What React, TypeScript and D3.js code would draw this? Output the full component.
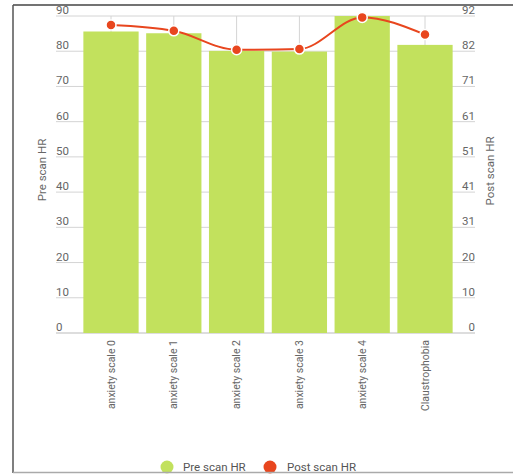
import React from "react";
import * as d3 from "d3";

const categories = [
  "anxiety scale 0",
  "anxiety scale 1",
  "anxiety scale 2",
  "anxiety scale 3",
  "anxiety scale 4",
  "Claustrophobia",
];
const preScanHR = [85.6, 85.1, 80.1, 79.9, 90, 81.8];
const postScanHR = [89.4, 87.7, 82.2, 82.4, 91.6, 86.6];
const leftTicks = [0, 10, 20, 30, 40, 50, 60, 70, 80, 90];
const rightTickLabels = ["0", "10", "20", "31", "41", "51", "61", "71", "82", "92"];

const W = 513;
const H = 474;
const TOP = 16;
const BOTTOM = 333;
const GRID_L = 56;
const GRID_R = 475;

const BAR = "#c2e15d";
const LINE = "#e8461e";
const TEXT = "#666";
const FONT = "Roboto, 'Liberation Sans', Arial, sans-serif";

export default function App() {
  const x = d3.scaleBand<string>().domain(categories).range([79.6, 456.4]).paddingInner(0.12).paddingOuter(0.06);
  const yL = d3.scaleLinear().domain([0, 90]).range([BOTTOM, TOP]);
  const yR = d3.scaleLinear().domain([0, 92]).range([BOTTOM, TOP]);
  const rightTickVals = d3.range(10).map((i) => (92 * i) / 9);

  const cx = (c: string) => (x(c) ?? 0) + x.bandwidth() / 2;
  const pts: [number, number][] = categories.map((c, i) => [cx(c), yR(postScanHR[i])]);
  const line = d3.line().curve(d3.curveMonotoneX)(pts) ?? "";

  return (
    <svg
      width={W}
      height={H}
      style={{ position: "absolute", left: 0, top: 0, background: "#fff" }}
      fontFamily={FONT}
    >
      {/* horizontal gridlines */}
      {leftTicks.map((t) => (
        <line key={"g" + t} x1={GRID_L} x2={GRID_R} y1={yL(t)} y2={yL(t)} stroke={t === 0 ? "#bbb" : "#d4d4d4"} strokeWidth={1} />
      ))}
      {/* vertical gridlines at category centres */}
      {categories.map((c) => (
        <line key={"v" + c} x1={cx(c)} x2={cx(c)} y1={TOP} y2={BOTTOM} stroke="#d4d4d4" strokeWidth={1} />
      ))}
      {/* bars */}
      {categories.map((c, i) => (
        <rect key={"b" + c} x={x(c)} y={yL(preScanHR[i])} width={x.bandwidth()} height={BOTTOM - yL(preScanHR[i])} fill={BAR} />
      ))}
      {/* left tick labels */}
      {leftTicks.map((t) => (
        <text key={"l" + t} x={GRID_L} y={yL(t) - 2} fontSize={11.5} fill={TEXT}>
          {t}
        </text>
      ))}
      {/* right tick labels */}
      {rightTickVals.map((v, i) => (
        <text key={"r" + i} x={GRID_R} y={yR(v) - 2} fontSize={11.5} fill={TEXT} textAnchor="end">
          {rightTickLabels[i]}
        </text>
      ))}
      {/* post scan line */}
      <path d={line} fill="none" stroke={LINE} strokeWidth={2} />
      {pts.map((p, i) => (
        <circle key={"p" + i} cx={p[0]} cy={p[1]} r={5} fill={LINE} stroke="#fff" strokeWidth={1.5} />
      ))}
      {/* category labels */}
      {categories.map((c) => (
        <text
          key={"x" + c}
          transform={`translate(${cx(c)},340) rotate(-90)`}
          textAnchor="end"
          dy="0.35em"
          fontSize={10.5}
          fill={TEXT}
        >
          {c}
        </text>
      ))}
      {/* axis titles */}
      <text transform={`translate(42,170) rotate(-90)`} textAnchor="middle" dy="0.35em" fontSize={11.5} fill={TEXT}>
        Pre scan HR
      </text>
      <text transform={`translate(490,171) rotate(-90)`} textAnchor="middle" dy="0.35em" fontSize={11.5} fill={TEXT}>
        Post scan HR
      </text>
      {/* legend */}
      <circle cx={167} cy={467} r={6.5} fill={BAR} />
      <text x={183} y={471} fontSize={11.5} fill="#555">
        Pre scan HR
      </text>
      <circle cx={270} cy={467} r={6.5} fill={LINE} />
      <text x={287} y={471} fontSize={11.5} fill="#555">
        Post scan HR
      </text>
      {/* frame */}
      <line x1={13} x2={W} y1={5} y2={5} stroke="#444" strokeWidth={1.5} />
      <line x1={13} x2={13} y1={5} y2={473} stroke="#555" strokeWidth={1.5} />
      <line x1={13} x2={W} y1={472.5} y2={472.5} stroke="#aaa" strokeWidth={1.5} />
    </svg>
  );
}
